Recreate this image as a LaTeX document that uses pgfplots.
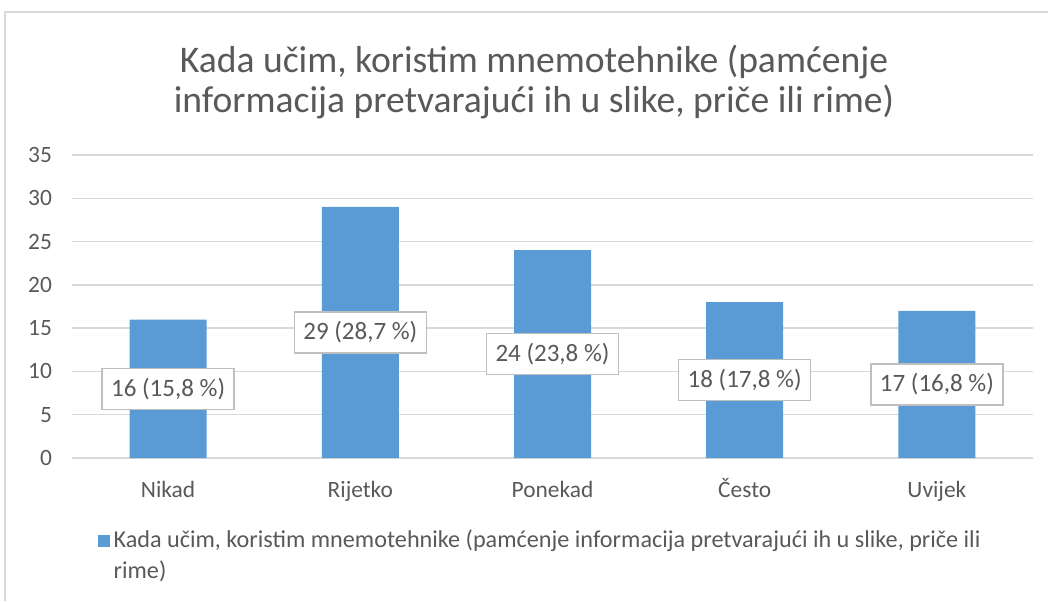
\documentclass[border=0pt]{standalone}
\usepackage{pgfplots}
\pgfplotsset{compat=1.18}
\usepackage{fontspec}
\setmainfont{Carlito}
\definecolor{barblue}{HTML}{5B9BD5}
\definecolor{txt}{HTML}{595959}
\definecolor{gridc}{HTML}{D9D9D9}
\definecolor{lblborder}{HTML}{BFBFBF}
\begin{document}
\begin{tikzpicture}[x=1pt,y=1pt]
\useasboundingbox (0pt,0pt) rectangle (524pt,-300.5pt);
\draw[gridc, line width=0.7pt] (2.5pt,-300.5pt) -- (2.5pt,-6pt) -- (524pt,-6pt);
\node[txt, align=center, font=\fontsize{18.8}{20}\selectfont] at (267pt,-41pt) {Kada učim, koristim mnemotehnike (pamćenje\\informacija pretvarajući ih u slike, priče ili rime)};
\begin{axis}[
  at={(36pt,-229pt)}, anchor=south west,
  scale only axis, width=480.5pt, height=151.5pt,
  xmin=-0.5, xmax=4.5, ymin=0, ymax=35,
  xtick={0,1,2,3,4}, xticklabels={Nikad,Rijetko,Ponekad,Često,Uvijek},
  ytick={0,5,...,35},
  ymajorgrids, grid style={gridc, line width=0.7pt},
  axis line style={draw=none},
  major tick length=0pt,
  tick label style={txt, font=\fontsize{11.7}{14}\selectfont},
  /pgf/number format/assume math mode=true,
  yticklabel style={xshift=-6.5pt},
  xticklabel style={yshift=-7.5pt, text height=8.5pt, text depth=2.5pt},
  legend style={draw=none, fill=none, at={(rel axis cs:0.02,-0.21)}, anchor=north west,
    font=\fontsize{12.1}{15.5}\selectfont, text=txt, cells={align=left}},
  legend cell align=left,
  legend image code/.code={\fill[barblue] (0pt,4.5pt) rectangle (6pt,10.5pt);},
]
\addplot[ybar, fill=barblue, draw=none, bar width=38.5pt,
  point meta=explicit symbolic,
  visualization depends on={rawy/2 \as \halfy},
  nodes near coords,
  nodes near coords style={anchor=center, shift={(axis direction cs:0,-\halfy)},
    fill=white, draw=lblborder, line width=0.7pt, text=txt,
    font=\fontsize{12.5}{15}\selectfont, inner xsep=4.5pt, minimum height=20.5pt},
] table[x=x, y=y, meta=lbl] {
x y lbl
0 16 {16 (15,8 \%)}
1 29 {29 (28,7 \%)}
2 24 {24 (23,8 \%)}
3 18 {18 (17,8 \%)}
4 17 {17 (16,8 \%)}
};
\addlegendentry{Kada učim, koristim mnemotehnike (pamćenje informacija pretvarajući ih u slike, priče ili\\rime)}
\end{axis}
\end{tikzpicture}
\end{document}
